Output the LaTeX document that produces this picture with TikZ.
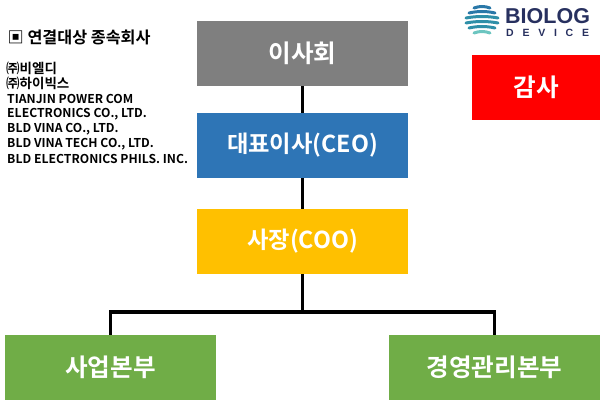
\documentclass[tikz,border=0pt]{standalone}
\usepackage{fontspec}
\setmainfont{Noto Sans CJK KR}[BoldFont={* Bold}]
\newfontfamily\logofont{Liberation Sans}
\definecolor{boardgray}{HTML}{7F7F7F}
\definecolor{ceoblue}{HTML}{2E75B6}
\definecolor{cooyellow}{HTML}{FFC000}
\definecolor{unitgreen}{HTML}{70AD47}
\definecolor{logonavy}{HTML}{27305F}
\definecolor{logoteal}{HTML}{2F8FA8}
\definecolor{logoblue}{HTML}{2A78A8}
\definecolor{logolight}{HTML}{6CC5C0}
\tikzset{
	orgbox/.style = {minimum width = 211pt, minimum height = 65pt, inner sep = 0pt, text = white, font = \bfseries\fontsize{24.6}{24.6}\selectfont},
	mixedbox/.style = {orgbox, font = \bfseries\fontsize{23.3}{23.3}\selectfont},
	orgline/.style = {line width = 3.2pt, black},
	listline/.style = {anchor = west, inner sep = 0pt, font = \bfseries\fontsize{12.2}{12.2}\selectfont},
	koreanline/.style = {listline, font = \bfseries\fontsize{13.5}{13.5}\selectfont}
}
\begin{document}
\begin{tikzpicture}[x = 1pt, y = -1pt]
	\useasboundingbox (0,0) rectangle (606,406);
	
	% boxes
	\node[orgbox, fill = boardgray] (board) at (302.5, 53.5) {이사회};
	\node[mixedbox, fill = ceoblue] (ceo) at (302.5, 145.5) {대표이사(CEO)};
	\node[mixedbox, fill = cooyellow] (coo) at (302.5, 241.5) {사장(COO)};
	\node[orgbox, fill = red, minimum width = 128pt] (audit) at (536, 87.5) {감사};
	\node[orgbox, fill = unitgreen] (business) at (110.5, 367.5) {사업본부};
	\node[orgbox, fill = unitgreen] (management) at (494.5, 367.5) {경영관리본부};
	
	% connectors
	\draw[orgline] (board) -- (ceo);
	\draw[orgline] (ceo) -- (coo);
	\coordinate (branch) at (302.5, 312);
	\draw[orgline] (coo) -- (branch);
	\draw[orgline] (business.north) |- (branch) -| (management.north);
	
	% subsidiaries
	\node[listline, font = \bfseries\fontsize{16.2}{16.2}\selectfont] (listhead) at (7.5, 37) {▣ 연결대상 종속회사};
	\node[koreanline] (sub1) at (6, 68) {㈜비엘디};
	\node[koreanline] (sub2) at (6, 83) {㈜하이빅스};
	\node[listline] (sub3) at (7, 99) {TIANJIN POWER COM};
	\node[listline] (sub4) at (7, 114) {ELECTRONICS CO., LTD.};
	\node[listline] (sub5) at (7, 129) {BLD VINA CO., LTD.};
	\node[listline] (sub6) at (7, 144) {BLD VINA TECH CO., LTD.};
	\node[listline] (sub7) at (7, 159) {BLD ELECTRONICS PHILS. INC.};
	
	% logo
	\begin{scope}[shift = {(482, 20)}]
		\foreach \y/\w/\c in {-12/8/logoblue, -7/13/logoblue, -2/16/logoteal, 3/16/logoteal, 8/13/logoteal, 13/8/logolight} {
			\draw[\c, line width = 3pt, line cap = round] (-\w, \y) .. controls (-\w/3, \y-2) and (\w/3, \y-2) .. (\w, \y);
		}
	\end{scope}
	\node[anchor = west, inner sep = 0pt, text = logonavy, font = \logofont\bfseries\fontsize{21.5}{21.5}\selectfont] (logotop) at (505, 16.5) {BIOLOG};
	\node[anchor = west, inner sep = 0pt, text = logonavy, font = \logofont\bfseries\fontsize{10.5}{10.5}\selectfont] (logobottom) at (506, 33) {D\,\,\,\,\,E\,\,\,\,\,V\,\,\,\,\,I\,\,\,\,\,C\,\,\,\,\,E};
\end{tikzpicture}
\end{document}
